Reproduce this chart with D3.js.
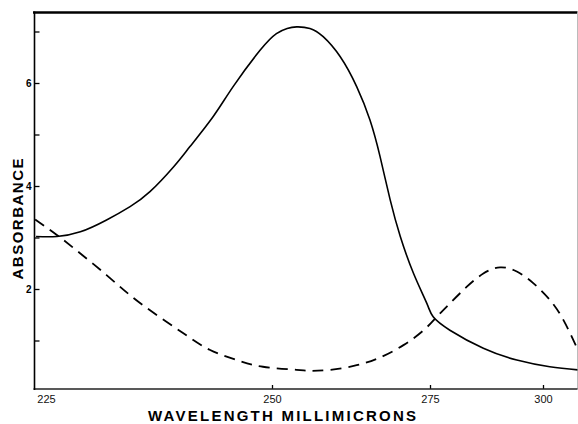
<!DOCTYPE html>
<html>
<head>
<meta charset="utf-8">
<script src="https://cdn.jsdelivr.net/npm/d3@7"></script>
<style>
  body { margin: 0; background: #fff; }
  svg { display: block; font-family: "Liberation Sans", Arial, sans-serif; }
</style>
</head>
<body>
<svg id="chart" width="578" height="424"></svg>
<script>
var w = 578;
var h = 424;

// solid curve, wavelength (millimicrons) and absorbance
var solidWl  = [223.9, 226.2, 228.8, 231.7, 234.3, 236.5, 239.1, 240.9, 243.5, 245.7, 248.7,
                250.7, 252.4, 253.9, 256.0, 258.1, 260.8, 263.4, 265.5, 267.1, 268.7, 270.3, 272.4,
                274.5, 275.7, 279.4, 286.8, 294.2, 301.5, 307.7];
var solidAbs = [3.02, 3.02, 3.11, 3.34, 3.60, 3.89, 4.37, 4.76, 5.35, 5.93, 6.64,
                6.96, 7.06, 7.09, 7.06, 6.90, 6.51, 5.93, 5.28, 4.57, 3.73, 3.02, 2.30,
                1.72, 1.46, 1.20, 0.85, 0.62, 0.49, 0.43];

// dashed curve
var dashedWl  = [223.8, 226.2, 228.8, 231.7, 234.3, 237.2, 240.2, 243.1, 246.1, 249.0, 253.9,
                 256.0, 259.2, 263.4, 267.1, 270.8, 274.0, 276.5, 279.4, 283.1, 286.8, 290.5,
                 294.2, 297.9, 301.5, 304.5, 307.7];
var dashedAbs = [3.35, 3.05, 2.69, 2.27, 1.88, 1.50, 1.14, 0.82, 0.62, 0.49, 0.43,
                 0.41, 0.43, 0.52, 0.67, 0.91, 1.20, 1.46, 1.72, 2.04, 2.30, 2.42,
                 2.34, 2.11, 1.79, 1.40, 0.82];

var xTicks = [225, 250, 275, 300];
var yTicks = [1, 2, 3, 4, 5, 6, 7];
var yLabels = [2, 4, 6];

var frame = { left: 34.5, right: 577.5, top: 12.5, bottom: 389 };

var svg = d3.select("#chart");

// the instrument's wavelength scale is not linear, so map each labelled tick
var xScale = d3.scaleLinear()
  .domain(xTicks)
  .range([46, 272, 430, 543]);

var yScale = d3.scaleLinear()
  .domain([0, 6])
  .range([392, 83]);

svg.append("clipPath")
  .attr("id", "plot-clip")
  .append("rect")
  .attr("x", frame.left)
  .attr("y", frame.top)
  .attr("width", frame.right - frame.left)
  .attr("height", frame.bottom - frame.top);

// frame
svg.append("line")
  .attr("x1", 33).attr("x2", frame.right)
  .attr("y1", frame.top).attr("y2", frame.top)
  .attr("stroke", "#000").attr("stroke-width", 2.5);
svg.append("line")
  .attr("x1", frame.right).attr("x2", frame.right)
  .attr("y1", frame.top).attr("y2", frame.bottom)
  .attr("stroke", "#bbb").attr("stroke-width", 1);

// x axis
var xAxis = svg.append("g")
  .attr("transform", "translate(0," + frame.bottom + ")")
  .style("font", "11px 'Liberation Sans', Arial, sans-serif")
  .call(d3.axisBottom(xScale)
    .tickValues(xTicks)
    .tickSizeInner(-4)
    .tickSizeOuter(0)
    .tickPadding(6)
    .tickFormat(d3.format("d")));
xAxis.select(".domain").remove();
xAxis.selectAll(".tick line")
  .attr("stroke-width", 1.3)
  .filter(function(d) { return d === 225; })
  .remove();
xAxis.selectAll(".tick text").attr("fill", "#111");

svg.append("line")
  .attr("x1", frame.left - 1).attr("x2", frame.right)
  .attr("y1", frame.bottom).attr("y2", frame.bottom)
  .attr("stroke", "#222").attr("stroke-width", 1.6);

// y axis
var yAxis = svg.append("g")
  .attr("transform", "translate(" + frame.left + ",0)")
  .style("font", "bold 10px 'Liberation Sans', Arial, sans-serif")
  .call(d3.axisLeft(yScale)
    .tickValues(yTicks)
    .tickSizeInner(-5)
    .tickSizeOuter(0)
    .tickPadding(3)
    .tickFormat(function(d) { return yLabels.indexOf(d) >= 0 ? d : ""; }));
yAxis.select(".domain").remove();
yAxis.selectAll(".tick line").attr("stroke-width", 1.3);

svg.append("line")
  .attr("x1", frame.left).attr("x2", frame.left)
  .attr("y1", frame.top - 1).attr("y2", frame.bottom + 1)
  .attr("stroke", "#000").attr("stroke-width", 1.6);

// curves
var line = d3.line()
  .x(function(d) { return xScale(d[0]); })
  .y(function(d) { return yScale(d[1]); })
  .curve(d3.curveNatural);

var plot = svg.append("g").attr("clip-path", "url(#plot-clip)");

plot.append("path")
  .datum(d3.zip(solidWl, solidAbs))
  .attr("d", line)
  .attr("fill", "none")
  .attr("stroke", "#000")
  .attr("stroke-width", 1.6);

plot.append("path")
  .datum(d3.zip(dashedWl, dashedAbs))
  .attr("d", line)
  .attr("fill", "none")
  .attr("stroke", "#000")
  .attr("stroke-width", 1.8)
  .attr("stroke-dasharray", "11,7");

// axis titles
svg.append("text")
  .attr("x", 282)
  .attr("y", 421)
  .attr("text-anchor", "middle")
  .attr("textLength", 268)
  .attr("lengthAdjust", "spacing")
  .style("font", "bold 15px 'Liberation Sans', Arial, sans-serif")
  .text("WAVELENGTH  MILLIMICRONS");

svg.append("text")
  .attr("transform", "translate(23,219) rotate(-90)")
  .attr("text-anchor", "middle")
  .attr("textLength", 121)
  .attr("lengthAdjust", "spacing")
  .style("font", "bold 15px 'Liberation Sans', Arial, sans-serif")
  .text("ABSORBANCE");
</script>
</body>
</html>
